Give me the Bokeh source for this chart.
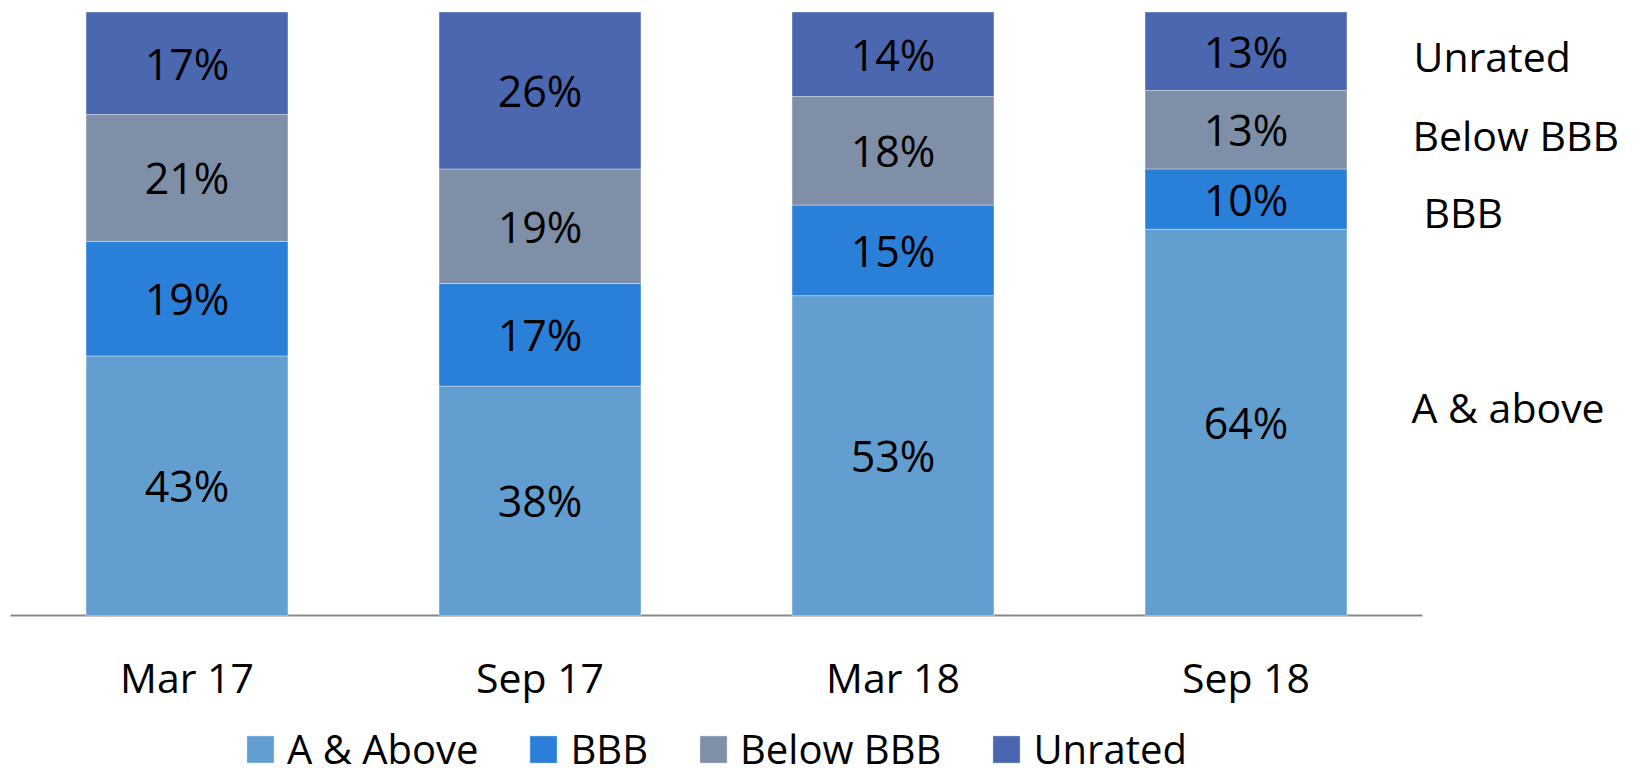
from bokeh.plotting import figure
from bokeh.models import ColumnDataSource, Legend, LegendItem, Label, Range1d
from bokeh.core.properties import value
from bokeh.embed import file_html
from bokeh.resources import INLINE

periods = ["Mar 17", "Sep 17", "Mar 18", "Sep 18"]
a_above = [43, 38, 53, 64]
bbb = [19, 17, 15, 10]
below_bbb = [21, 19, 18, 13]
unrated = [17, 26, 14, 13]

series_names = ["A & Above", "BBB", "Below BBB", "Unrated"]
side_labels = ["A & above", "BBB", "Below BBB", "Unrated"]
colors = ["#639ED1", "#2A7FD8", "#808FA8", "#4A67AF"]

FONT = "Open Sans"

W, H = 1634, 775
# layout: category slot = 353 px, plot starts 10 px in, 100% = 603.5 px, top 11.5 px
SLOT = 353.0
X0 = 10.0
PXU = 603.5 / 100.0
TOP = 11.5
BASE = TOP + 100 * PXU

p = figure(width=W, height=H,
           x_range=Range1d(-X0 / SLOT, (W - X0) / SLOT),
           y_range=Range1d(-(H - BASE) / PXU, 100 + TOP / PXU),
           output_backend="svg", toolbar_location=None,
           min_border=0, min_border_left=0, min_border_right=0,
           min_border_top=0, min_border_bottom=0)

p.xgrid.visible = False
p.ygrid.visible = False
p.xaxis.visible = False
p.yaxis.visible = False
p.outline_line_color = None
p.background_fill_color = "white"
p.border_fill_color = "white"

n = len(periods)
xs = [i + 0.5 for i in range(n)]

# baseline (category axis line)
p.segment(x0=[0], y0=[0], x1=[n], y1=[0], line_color="#898989", line_width=2)

series = [a_above, bbb, below_bbb, unrated]
bottoms = [0] * n
renderers = []
for name, vals, col in zip(series_names, series, colors):
    tops = [b + v for b, v in zip(bottoms, vals)]
    mids = [(b + t) / 2 for b, t in zip(bottoms, tops)]
    src = ColumnDataSource(dict(x=xs, bottom=bottoms, top=tops, mid=mids,
                                lab=[f"{v}%" for v in vals]))
    r = p.vbar(x="x", bottom="bottom", top="top", width=0.572, source=src,
               fill_color=col, line_color="white", line_alpha=0.35, line_width=1)
    renderers.append(r)
    p.text(x="x", y="mid", text="lab", source=src, text_align="center",
           text_baseline="middle", text_font=value(FONT), text_font_size="43px",
           text_color="black")
    bottoms = tops

# category labels under the baseline
cat_src = ColumnDataSource(dict(x=xs, y=[0] * n, t=periods))
p.text(x="x", y="y", text="t", source=cat_src, y_offset=61, text_align="center",
       text_baseline="middle", text_font=value(FONT), text_font_size="41px",
       text_color="black")

# side labels next to last bar (nudges in px: right, up)
nudge_x = [-11, 1, -10, -9]
nudge_up = [15, -13, -5, -5]
last_b = 0
for lab, vals, nx, nu in zip(side_labels, series, nudge_x, nudge_up):
    v = vals[-1]
    mid = last_b + v / 2
    last_b += v
    p.add_layout(Label(x=n, y=mid + nu / PXU, text=lab, x_offset=nx, text_font=FONT,
                       text_font_size="41px", text_baseline="middle",
                       text_color="black"))

legend = Legend(items=[LegendItem(label=nm, renderers=[r]) for nm, r in zip(series_names, renderers)],
                orientation="horizontal", location=(243, -1),
                label_text_font=FONT, label_text_font_size="40px",
                label_text_color="black",
                glyph_width=34, glyph_height=34, label_standoff=10, spacing=48,
                padding=0, margin=0, border_line_color=None,
                background_fill_alpha=0)
p.add_layout(legend, "center")

open("out.html", "w").write(file_html(p, INLINE))
